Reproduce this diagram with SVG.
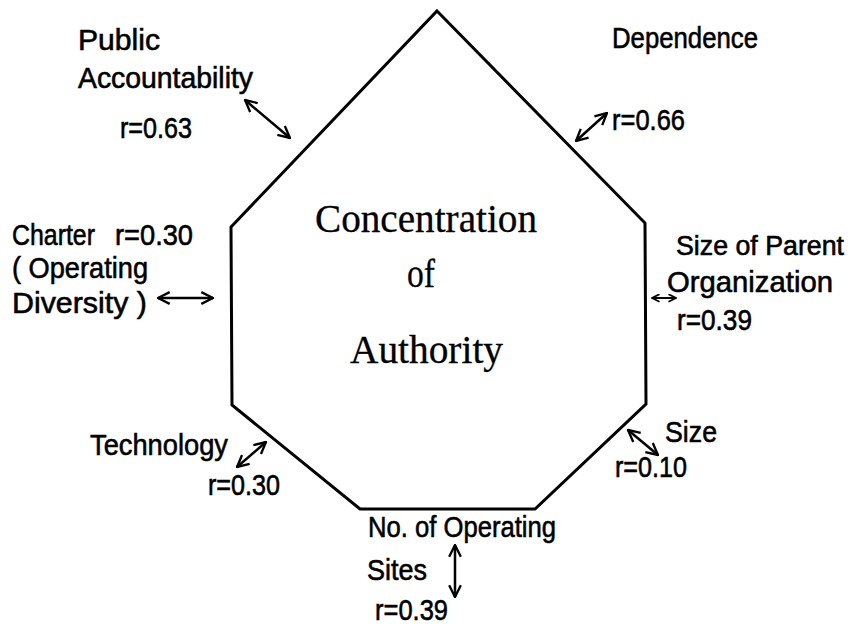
<svg xmlns="http://www.w3.org/2000/svg" width="856" height="629" viewBox="0 0 856 629">
<defs>
<style>
.lbl{font-family:"Liberation Sans",Arial,sans-serif;font-size:30px;fill:#000;stroke:#000;stroke-width:0.6}
.ctr{font-family:"Liberation Serif","Times New Roman",serif;font-size:39px;fill:#000;stroke:#000;stroke-width:0.3}
.shape{fill:#fff;stroke:#000;stroke-width:3;stroke-linejoin:miter}
.arr{stroke:#000;stroke-width:2.5;fill:none;marker-start:url(#ah);marker-end:url(#ah)}
.arrs{stroke:#000;stroke-width:2;fill:none;marker-start:url(#ahs);marker-end:url(#ahs)}
</style>
<marker id="ah" viewBox="0 0 12 12" refX="11" refY="6" markerWidth="14" markerHeight="14" markerUnits="userSpaceOnUse" orient="auto-start-reverse">
<path d="M1,1 L11,6 L1,11" fill="none" stroke="#000" stroke-width="2"/>
</marker>
<marker id="ahs" viewBox="0 0 12 12" refX="11" refY="6" markerWidth="9" markerHeight="9" markerUnits="userSpaceOnUse" orient="auto-start-reverse">
<path d="M1,1 L11,6 L1,11" fill="none" stroke="#000" stroke-width="2.5"/>
</marker>
</defs>
<rect width="856" height="629" fill="#fff"/>

<g id="concentration">
<polygon class="shape" points="437,11 645,223 646,404 535,509 360,509 232,405 231,227"/>
<text class="ctr" x="315" y="232" textLength="222" lengthAdjust="spacingAndGlyphs">Concentration</text>
<text class="ctr" x="407" y="287" textLength="28" lengthAdjust="spacingAndGlyphs">of</text>
<text class="ctr" x="350" y="363" textLength="153" lengthAdjust="spacingAndGlyphs">Authority</text>
</g>

<g id="public-accountability">
<text class="lbl" x="78" y="50" textLength="82" lengthAdjust="spacingAndGlyphs">Public</text>
<text class="lbl" x="78" y="88" textLength="175" lengthAdjust="spacingAndGlyphs">Accountability</text>
<text class="lbl" x="120" y="138" textLength="72" lengthAdjust="spacingAndGlyphs">r=0.63</text>
</g>

<g id="dependence">
<text class="lbl" x="612" y="48" textLength="146" lengthAdjust="spacingAndGlyphs">Dependence</text>
<text class="lbl" x="612" y="130" textLength="73" lengthAdjust="spacingAndGlyphs">r=0.66</text>
</g>

<g id="charter">
<text class="lbl" y="245"><tspan x="12" textLength="83" lengthAdjust="spacingAndGlyphs">Charter</tspan><tspan x="115" textLength="78" lengthAdjust="spacingAndGlyphs">r=0.30</tspan></text>
<text class="lbl" x="12" y="278" textLength="136" lengthAdjust="spacingAndGlyphs">( Operating</text>
<text class="lbl" x="12" y="313" textLength="135" lengthAdjust="spacingAndGlyphs">Diversity )</text>
</g>

<g id="size-of-parent">
<text class="lbl" x="676" y="255" style="font-size:27px" textLength="168" lengthAdjust="spacingAndGlyphs">Size of Parent</text>
<text class="lbl" x="667" y="292" textLength="166" lengthAdjust="spacingAndGlyphs">Organization</text>
<text class="lbl" x="677" y="330" textLength="75" lengthAdjust="spacingAndGlyphs">r=0.39</text>
</g>

<g id="technology">
<text class="lbl" x="90" y="455" textLength="138" lengthAdjust="spacingAndGlyphs">Technology</text>
<text class="lbl" x="208" y="495" textLength="72" lengthAdjust="spacingAndGlyphs">r=0.30</text>
</g>

<g id="size">
<text class="lbl" x="665" y="442" textLength="52" lengthAdjust="spacingAndGlyphs">Size</text>
<text class="lbl" x="615" y="477" textLength="72" lengthAdjust="spacingAndGlyphs">r=0.10</text>
</g>

<g id="sites">
<text class="lbl" x="368" y="537" textLength="188" lengthAdjust="spacingAndGlyphs">No. of Operating</text>
<text class="lbl" x="367" y="580" textLength="60" lengthAdjust="spacingAndGlyphs">Sites</text>
<text class="lbl" x="375" y="620" textLength="73" lengthAdjust="spacingAndGlyphs">r=0.39</text>
</g>

<g id="connectors">
<line class="arr" x1="245" y1="100" x2="290" y2="138"/>
<line class="arr" x1="576" y1="141" x2="607" y2="113"/>
<line class="arr" x1="158" y1="298" x2="213" y2="298"/>
<line class="arrs" x1="652" y1="298" x2="676" y2="298"/>
<line class="arr" x1="237" y1="467" x2="266" y2="442"/>
<line class="arr" x1="628" y1="430" x2="658" y2="455"/>
<line class="arr" x1="455" y1="545" x2="455" y2="597"/>
</g>
</svg>
